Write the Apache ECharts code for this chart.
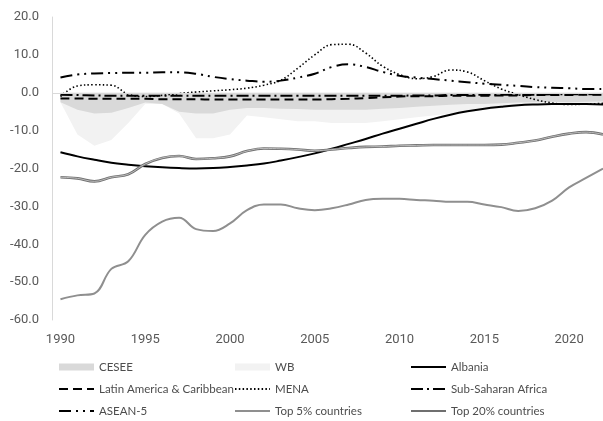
<!DOCTYPE html>
<html>
<head>
<meta charset="utf-8">
<script src="https://cdn.jsdelivr.net/npm/echarts@6/dist/echarts.min.js"></script>
<style>html,body{margin:0;padding:0;background:#fff}#c{width:603px;height:421px}</style>
</head>
<body>
<div id="c"></div>
<script>
var years = [1990,1991,1992,1993,1994,1995,1996,1997,1998,1999,2000,2001,2002,2003,2004,2005,2006,2007,2008,2009,2010,2011,2012,2013,2014,2015,2016,2017,2018,2019,2020,2021,2022];
var xTickLabels = [1990,1995,2000,2005,2010,2015,2020];
var cesee = [-2.5,-4.5,-5.5,-5.3,-4,-2.6,-3,-5,-5.5,-5.5,-4.5,-4,-4,-4.2,-4.3,-4.5,-4.5,-4.5,-4.5,-4.2,-4,-3.7,-3.4,-3.2,-3,-3,-2.8,-2.6,-2.5,-2.4,-2.5,-2.4,-2.3];
var wb = [-2.5,-11,-14,-12.5,-8,-3,-3,-5.5,-12,-12,-11,-6,-6.5,-7,-7.5,-7.5,-8,-8,-8,-7.5,-7,-6.5,-6,-5.5,-5,-4.5,-4,-3.5,-3.2,-3,-3.3,-3,-3];
var albania = [-15.7,-16.8,-17.7,-18.5,-19,-19.4,-19.7,-19.9,-20,-19.9,-19.6,-19.2,-18.7,-17.9,-17,-16,-14.8,-13.5,-12.2,-10.8,-9.5,-8.2,-6.9,-5.8,-4.9,-4.2,-3.7,-3.3,-3.1,-3,-3,-3,-3.1];
var latam = [-1.5,-1.5,-1.6,-1.6,-1.6,-1.6,-1.7,-1.7,-1.7,-1.8,-1.8,-1.8,-1.8,-1.8,-1.8,-1.8,-1.7,-1.6,-1.4,-1.2,-1.0,-0.9,-0.9,-0.8,-0.8,-0.8,-0.7,-0.7,-0.6,-0.6,-0.6,-0.5,-0.5];
var mena = [-1.0,1.8,2.1,2.0,-0.4,-1.0,-0.7,-0.2,0.2,0.5,0.8,1.2,2.0,3.3,6.5,10,12.7,12.8,10.5,7,4.8,3.7,4.3,6,5.5,3.2,1,-0.5,-1.8,-2.7,-3.1,-3.0,-2.8];
var ssa = [-0.5,-0.6,-0.7,-0.8,-0.8,-0.8,-0.8,-0.8,-0.8,-0.8,-0.8,-0.8,-0.8,-0.8,-0.8,-0.8,-0.8,-0.8,-0.8,-0.8,-0.8,-0.7,-0.7,-0.6,-0.6,-0.5,-0.5,-0.5,-0.5,-0.4,-0.4,-0.4,-0.4];
var asean5 = [4.0,4.8,5.1,5.2,5.3,5.3,5.4,5.4,5.0,4.2,3.6,3.2,2.9,3.2,4.0,5.0,6.8,7.5,6.8,5.5,4.5,4.0,3.6,3.2,2.8,2.4,2.1,1.8,1.5,1.3,1.2,1.0,1.0];
var top5 = [-54.5,-53.5,-53,-46.5,-44.5,-37.5,-34,-33,-36,-36.5,-34.5,-31,-29.5,-29.5,-30.5,-31,-30.5,-29.5,-28.3,-28,-28,-28.3,-28.5,-28.8,-28.8,-29.5,-30.2,-31.2,-30.5,-28.5,-25,-22.5,-20];
var top20 = [-22.3,-22.6,-23.4,-22.3,-21.5,-18.8,-17.2,-16.7,-17.5,-17.3,-16.8,-15.4,-14.7,-14.8,-15,-15.3,-15,-14.6,-14.3,-14.2,-14,-13.9,-13.8,-13.8,-13.8,-13.8,-13.7,-13.2,-12.6,-11.6,-10.8,-10.4,-11];

function pairs(arr){ return years.map(function(y,i){ return [y, arr[i]]; }); }

var chart = echarts.init(document.getElementById('c'), null, {renderer:'canvas'});
var axisFont = {color:'#595959', fontFamily:'Roboto', fontSize:13};
var legendText = {color:'#4d4d4d', fontFamily:'Lato', fontSize:11.5};
function lineSeries(name, data, color, width, type, extra){
  var s = {name:name, type:'line', data:pairs(data), symbol:'none', smooth:0.4,
    lineStyle:{color:color, width:width, type:type}, itemStyle:{color:color}, z:3};
  if (extra) for (var k in extra) s[k]=extra[k];
  return s;
}
var hideSym = {color:'rgba(0,0,0,0)', borderWidth:0, opacity:0};
function li(name){ return {name:name, itemStyle:hideSym}; }
function ar(name){ return {name:name, icon:'rect'}; }
function legend(left, items){
  return {left:left, top:361, height:80, padding:0, orient:'vertical', itemGap:10, itemWidth:35, itemHeight:7,
    textStyle:legendText, data:items, selectedMode:false};
}
chart.setOption({
  animation:false,
  grid:{left:52, right:0, top:17, bottom:101},
  xAxis:{type:'value', min:1989.5, max:2022,
    axisLine:{show:false}, axisTick:{show:false}, splitLine:{show:false},
    axisLabel:Object.assign({customValues:xTickLabels, margin:13, formatter:function(v){return String(v);}}, axisFont)},
  yAxis:{type:'value', min:-60, max:20, interval:10,
    axisLine:{show:true, lineStyle:{color:'#d9d9d9', width:1}}, axisTick:{show:false}, splitLine:{show:false},
    axisLabel:Object.assign({margin:13, formatter:function(v){return v.toFixed(1);}}, axisFont)},
  legend:[
    legend(58, [ar('CESEE'), li('Latin America & Caribbean'), li('ASEAN-5')]),
    legend(234, [ar('WB'), li('MENA'), li('Top 5% countries')]),
    legend(410, [li('Albania'), li('Sub-Saharan Africa'), li('Top 20% countries')])
  ],
  series:[
    {name:'WB', type:'line', data:pairs(wb), symbol:'none', lineStyle:{width:0}, itemStyle:{color:'#f2f2f2'},
      areaStyle:{color:'#f2f2f2', opacity:1}, z:1},
    {name:'CESEE', type:'line', data:pairs(cesee), symbol:'none', lineStyle:{width:0}, itemStyle:{color:'#d9d9d9'},
      areaStyle:{color:'#d9d9d9', opacity:1}, z:1,
      markLine:{silent:true, symbol:'none', label:{show:false}, lineStyle:{color:'#d9d9d9', type:'solid', width:1},
        data:[{yAxis:0}]}},
    lineSeries('Albania', albania, '#000000', 2, 'solid'),
    lineSeries('Latin America & Caribbean', latam, '#000000', 2, [9,5]),
    lineSeries('MENA', mena, '#000000', 1.6, [1.5,2.3]),
    lineSeries('Sub-Saharan Africa', ssa, '#000000', 2, [12,4,2,4]),
    lineSeries('ASEAN-5', asean5, '#000000', 2, [12,5,2,5,2,5]),
    lineSeries('Top 5% countries', top5, '#8f8f8f', 2, 'solid'),
    lineSeries('Top 20% countries', top20, '#6f6f6f', 2.6, 'solid'),
    lineSeries('', top20, '#cfcfcf', 0.8, 'solid', {z:4})
  ]
});
</script>
</body>
</html>
